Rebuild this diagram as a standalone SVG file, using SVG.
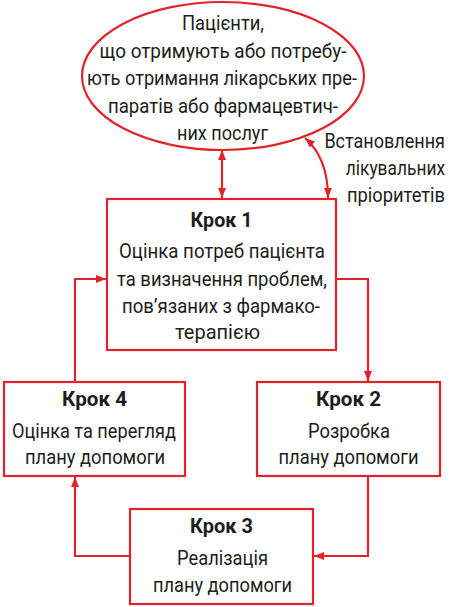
<svg xmlns="http://www.w3.org/2000/svg" width="450" height="607" viewBox="0 0 450 607">
<defs>
<marker id="ah" viewBox="0 0 10 8" refX="10" refY="4" markerWidth="10" markerHeight="8" markerUnits="userSpaceOnUse" orient="auto-start-reverse">
<path d="M0,0 L10,4 L0,8 Z" fill="#e3232b"/>
</marker>
<style>
.sh{fill:#fff;stroke:#e3232b;stroke-width:2.2}
.ln{fill:none;stroke:#e3232b;stroke-width:2.2}
text{font-family:"Liberation Sans Narrow","Roboto","Liberation Sans",Arial,sans-serif;font-size:21px;fill:#1d1d1b;text-anchor:middle}
.b{font-weight:bold}
.r{text-anchor:end}
</style>
</defs>
<g id="connectors">
<line class="ln" x1="222" y1="150" x2="222" y2="198" marker-start="url(#ah)" marker-end="url(#ah)"/>
<path class="ln" d="M305,138 Q328,158 328,198" marker-start="url(#ah)" marker-end="url(#ah)"/>
<polyline class="ln" points="336,279 368,279 368,381" marker-end="url(#ah)"/>
<polyline class="ln" points="368,476 368,556 314,556" marker-end="url(#ah)"/>
<polyline class="ln" points="130,556 75,556 75,477" marker-end="url(#ah)"/>
<polyline class="ln" points="75,382 75,279 106,279" marker-end="url(#ah)"/>
</g>
<g id="patients">
<ellipse class="sh" cx="223" cy="76" rx="141" ry="74"/>
<text x="223" y="30" textLength="82" lengthAdjust="spacingAndGlyphs">Пацієнти,</text>
<text x="223" y="57.5" textLength="247" lengthAdjust="spacingAndGlyphs">що отримують або потребу-</text>
<text x="222" y="85" textLength="270" lengthAdjust="spacingAndGlyphs">ють отримання лікарських пре-</text>
<text x="223" y="112.5" textLength="230" lengthAdjust="spacingAndGlyphs">паратів або фармацевтич-</text>
<text x="222.5" y="140" textLength="91" lengthAdjust="spacingAndGlyphs">них послуг</text>
</g>
<g id="label">
<text class="r" transform="matrix(0.9,0,0,1,44.5,0)" x="445" y="148" textLength="134" lengthAdjust="spacingAndGlyphs">Встановлення</text>
<text class="r" transform="matrix(0.8,0,0,1,89,0)" x="445" y="175" textLength="124" lengthAdjust="spacingAndGlyphs">лікувальних</text>
<text class="r" transform="matrix(0.9,0,0,1,44.5,0)" x="445" y="202" textLength="109" lengthAdjust="spacingAndGlyphs">пріоритетів</text>
</g>
<g id="step1">
<rect class="sh" x="107" y="199" width="229" height="151"/>
<text class="b" x="221.5" y="227" textLength="62" lengthAdjust="spacingAndGlyphs">Крок 1</text>
<text x="222" y="258" textLength="206" lengthAdjust="spacingAndGlyphs">Оцінка потреб пацієнта</text>
<text x="222" y="286" textLength="210" lengthAdjust="spacingAndGlyphs">та визначення проблем,</text>
<text x="221" y="313" textLength="198" lengthAdjust="spacingAndGlyphs">пов’язаних з фармако-</text>
<text x="217.5" y="339" textLength="85" lengthAdjust="spacingAndGlyphs">терапією</text>
</g>
<g id="step2">
<rect class="sh" x="257" y="382" width="183" height="94"/>
<text class="b" x="348.5" y="406" textLength="65" lengthAdjust="spacingAndGlyphs">Крок 2</text>
<text x="349" y="438" textLength="82" lengthAdjust="spacingAndGlyphs">Розробка</text>
<text x="348.5" y="464" textLength="140" lengthAdjust="spacingAndGlyphs">плану допомоги</text>
</g>
<g id="step4">
<rect class="sh" x="4" y="382" width="181" height="94"/>
<text class="b" x="94.5" y="406" textLength="65" lengthAdjust="spacingAndGlyphs">Крок 4</text>
<text x="94" y="438" textLength="164" lengthAdjust="spacingAndGlyphs">Оцінка та перегляд</text>
<text x="95" y="464" textLength="140" lengthAdjust="spacingAndGlyphs">плану допомоги</text>
</g>
<g id="step3">
<rect class="sh" x="130" y="509" width="183" height="95"/>
<text class="b" x="221.5" y="533" textLength="63" lengthAdjust="spacingAndGlyphs">Крок 3</text>
<text x="222.5" y="565" textLength="91" lengthAdjust="spacingAndGlyphs">Реалізація</text>
<text x="222.5" y="592" textLength="139" lengthAdjust="spacingAndGlyphs">плану допомоги</text>
</g>
</svg>
